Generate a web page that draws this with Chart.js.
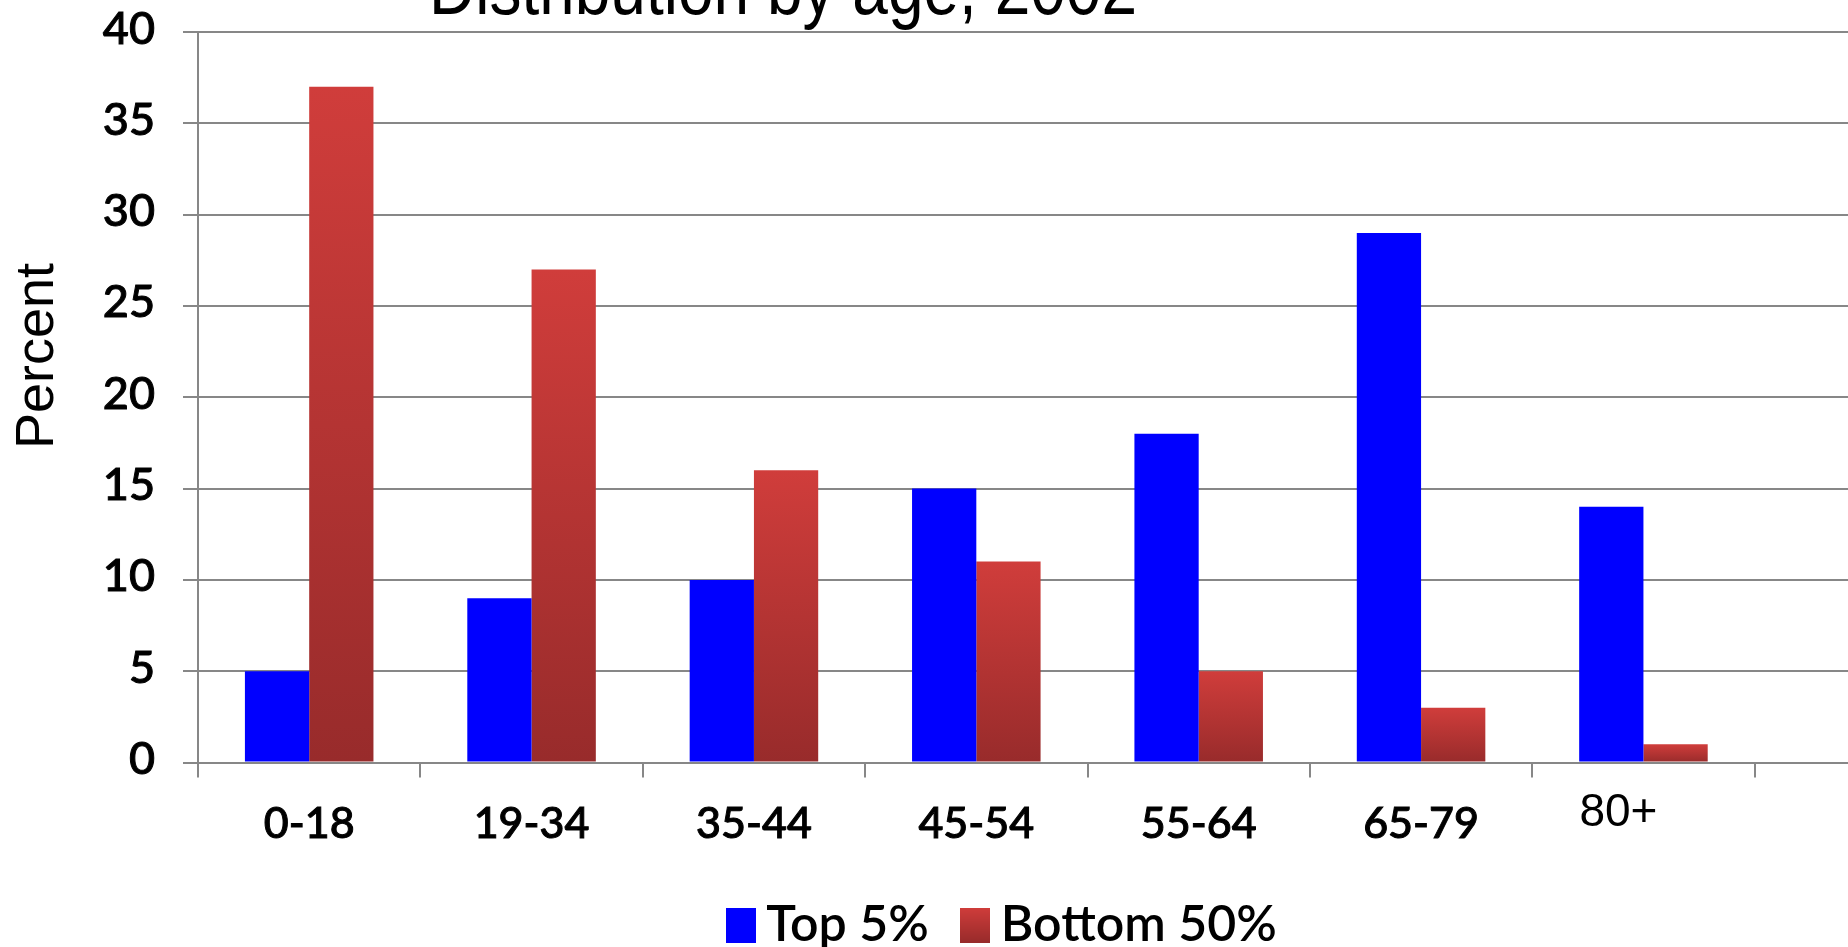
<!DOCTYPE html>
<html>
<head>
<meta charset="utf-8">
<script src="https://cdn.jsdelivr.net/npm/chart.js@4.4.1/dist/chart.umd.min.js"></script>
<style>
  html, body { margin: 0; padding: 0; background: #ffffff; overflow: hidden; width: 1848px; height: 947px; }
  canvas { display: block; }
</style>
</head>
<body>
<canvas id="chart" width="1977" height="960"></canvas>
<script>
// Age groups and the share (percent) of each wealth group falling in them
const categories = ['0-18', '19-34', '35-44', '45-54', '55-64', '65-79', '80+'];
const top5 = [5, 9, 10, 15, 18, 29, 14];
const bottom50 = [37, 27, 16, 11, 5, 3, 1];
const seriesNames = ['Top 5%', 'Bottom 50%'];
const yTickValues = [0, 5, 10, 15, 20, 25, 30, 35, 40];
const chartTitle = 'Distribution by age, 2002';
const yTitle = 'Percent';

// One empty band is kept at the right end of the category axis
const axisLabels = categories.concat(['']);

const GRID = '#878787';
const BLUE = '#0000ff';
const RED_TOP = '#d03d3b';
const RED_BOTTOM = '#982b2b';
const RED_MID = '#b83532';
const TICK_FONT = 'Lato, "Open Sans", sans-serif';
const ARIAL = '"Liberation Sans", Arial, sans-serif';
const PAD_LEFT = 40;      // left layout padding (also centres the legend row)
const PLOT_LEFT = 198;    // x of the value axis line

function redGradient(ctx, y0, y1) {
  const g = ctx.createLinearGradient(0, y0, 0, y1);
  g.addColorStop(0, RED_TOP);
  g.addColorStop(1, RED_BOTTOM);
  return g;
}

// Each red bar is shaded from light at its top to dark at its base
function redFill(context) {
  const chart = context.chart;
  if (context.type !== 'data' || !chart.chartArea || !chart.scales.y) return RED_MID;
  const y = chart.scales.y;
  const top = y.getPixelForValue(context.raw);
  const base = y.getPixelForValue(0);
  if (!isFinite(top) || !isFinite(base) || top === base) return RED_MID;
  return redGradient(chart.ctx, top, base);
}

// Legend swatches drawn as small images so they sit close to their text
function makeSwatch(w, h, paint) {
  const c = document.createElement('canvas');
  c.width = w;
  c.height = h;
  const g = c.getContext('2d');
  g.fillStyle = paint(g, h);
  g.fillRect(0, 0, w, h);
  return c;
}
const swatches = [
  makeSwatch(30, 35, () => BLUE),
  makeSwatch(30, 35, (g, h) => redGradient(g, 0, h))
];

// Title, vertical axis caption and the last category caption
const captions = {
  id: 'captions',
  afterDraw(chart) {
    const ctx = chart.ctx;
    const xs = chart.scales.x;
    ctx.save();
    ctx.fillStyle = '#000000';

    // chart title, partly above the top edge
    ctx.save();
    ctx.font = '64px ' + ARIAL;
    ctx.textAlign = 'center';
    ctx.textBaseline = 'alphabetic';
    ctx.translate(783, 14);
    ctx.scale(1, 1.2);
    ctx.fillText(chartTitle, 0, 0);
    ctx.restore();

    // y axis caption
    ctx.save();
    ctx.font = '54px ' + ARIAL;
    ctx.textAlign = 'center';
    ctx.textBaseline = 'alphabetic';
    ctx.translate(53, 356);
    ctx.rotate(-Math.PI / 2);
    ctx.fillText(yTitle, 0, 0);
    ctx.restore();

    // last category caption, set in a different face and raised
    const last = categories.length - 1;
    ctx.font = '46px ' + ARIAL;
    ctx.textAlign = 'center';
    ctx.textBaseline = 'alphabetic';
    ctx.fillText(categories[last], xs.getPixelForValue(last) - 25, 826);

    ctx.restore();
  }
};

function build() {
  new Chart(document.getElementById('chart'), {
    type: 'bar',
    data: {
      labels: axisLabels,
      datasets: [
        { label: seriesNames[0], data: top5, backgroundColor: BLUE, borderWidth: 0 },
        { label: seriesNames[1], data: bottom50, backgroundColor: redFill, borderWidth: 0 }
      ]
    },
    options: {
      responsive: false,
      animation: false,
      devicePixelRatio: 1,
      layout: { padding: { top: 32, left: PAD_LEFT, right: 0, bottom: 0 } },
      datasets: { bar: { categoryPercentage: 0.578, barPercentage: 1.0 } },
      plugins: {
        title: { display: false },
        tooltip: { enabled: false },
        legend: {
          position: 'bottom',
          labels: {
            font: { family: TICK_FONT, size: 50, weight: '600' },
            color: '#000000',
            usePointStyle: true,
            pointStyleWidth: 1,
            boxHeight: 34,
            padding: 46,
            generateLabels(chart) {
              const items = Chart.defaults.plugins.legend.labels.generateLabels(chart);
              items.forEach((it, i) => { it.pointStyle = swatches[i]; });
              return items;
            }
          }
        }
      },
      scales: {
        x: {
          afterFit: (s) => { s.height = 91.5; s.paddingLeft = 0; s.paddingRight = 0; },
          ticks: {
            font: { family: TICK_FONT, size: 43, weight: '500' },
            color: '#000000',
            textStrokeColor: '#000000',
            textStrokeWidth: 1,
            padding: 21,
            autoSkip: false,
            maxRotation: 0,
            callback: (v, i) => (i >= categories.length - 1 ? '' : axisLabels[i])
          },
          grid: { drawOnChartArea: false, drawTicks: true, tickLength: 15, color: GRID, lineWidth: 2, offset: true },
          border: { display: true, color: GRID, width: 2 }
        },
        y: {
          min: 0,
          max: 40,
          afterBuildTicks: (s) => { s.ticks = yTickValues.map((v) => ({ value: v })); },
          afterFit: (s) => { s.width = PLOT_LEFT - PAD_LEFT; s.paddingTop = 0; s.paddingBottom = 0; },
          ticks: {
            font: { family: TICK_FONT, size: 45, weight: '500' },
            color: '#000000',
            textStrokeColor: '#000000',
            textStrokeWidth: 1,
            padding: 28,
            labelOffset: -3
          },
          grid: { color: GRID, lineWidth: 2, drawTicks: true, tickLength: 15, tickColor: GRID },
          border: { display: true, color: GRID, width: 2 }
        }
      }
    },
    plugins: [captions]
  });
}

const fontLoads = document.fonts && document.fonts.load
  ? Promise.all([
      document.fonts.load('500 42px Lato'),
      document.fonts.load('600 50px Lato'),
      document.fonts.load('40px "Liberation Sans"')
    ]).catch(() => null)
  : Promise.resolve();
fontLoads.then(build, build);
</script>
</body>
</html>
